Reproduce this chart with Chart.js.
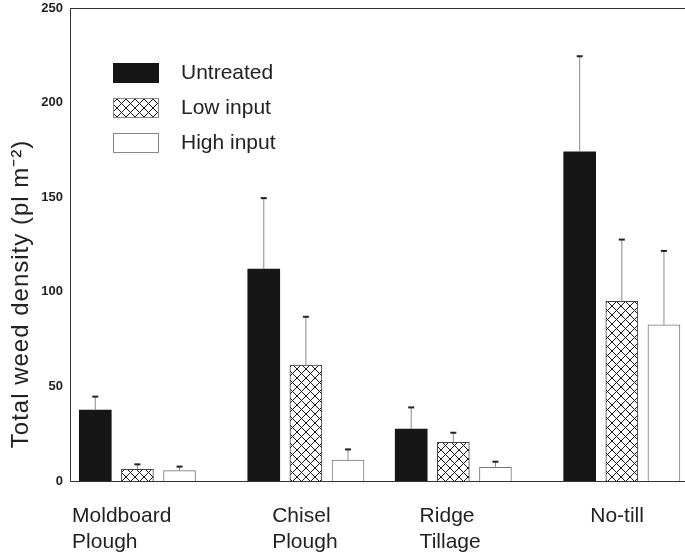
<!DOCTYPE html>
<html><head><meta charset="utf-8">
<script src="https://cdn.jsdelivr.net/npm/chart.js@4.4.1/dist/chart.umd.min.js"></script>
<style>html,body{margin:0;padding:0;background:#fff}#wrap{width:685px;height:554px}</style>
</head><body><div id="wrap"><canvas id="c" width="685" height="554"></canvas></div>
<script>
// ---- data ----
const categories = ['Moldboard Plough', 'Chisel Plough', 'Ridge Tillage', 'No-till'];
const tickLabels = [['Moldboard', 'Plough'], ['Chisel', 'Plough'], ['Ridge', 'Tillage'], ['No-till']];
const seriesNames = ['Untreated', 'Low input', 'High input'];
const untreated = [37.5, 112, 27.5, 174];
const lowInput = [6.2, 61.3, 20.4, 95];
const highInput = [5.5, 11.1, 7.2, 82.5];
const untreatedErr = [7.1, 37.5, 11.4, 50.5];
const lowInputErr = [2.6, 25.5, 5.1, 32.6];
const highInputErr = [2.1, 5.6, 3.0, 39.1];
const yTicks = [0, 50, 100, 150, 200, 250];
const yTitle = 'Total weed density (pl m\u207B\u00B2)';

// ---- layout (positions on the linear x scale, not data) ----
const layoutCfg = {
  groupSlot: [0, 8, 15, 23],   // uneven group spacing as in the original
  seriesStep: 2,
  labelShift: [-1.1, 0.4, 0.4, 0.5],
  xMin: -1.2, xMax: 28
};

const FONT = '"Liberation Sans", Arial, Helvetica, sans-serif';

function hatchPattern() {
  const s = 9;
  const c = document.createElement('canvas');
  c.width = s; c.height = s;
  const g = c.getContext('2d');
  g.fillStyle = '#fff'; g.fillRect(0, 0, s, s);
  g.strokeStyle = '#1a1a1a'; g.lineWidth = 1;
  g.beginPath();
  g.moveTo(0, 0); g.lineTo(s, s);
  g.moveTo(s, 0); g.lineTo(0, s);
  g.stroke();
  return g.createPattern(c, 'repeat');
}

const seriesValues = [untreated, lowInput, highInput];
const seriesErrs = [untreatedErr, lowInputErr, highInputErr];
const styles = [
  { backgroundColor: '#161616', borderColor: '#161616', borderWidth: 0 },
  { backgroundColor: hatchPattern(), borderColor: '#444', borderWidth: 1 },
  { backgroundColor: '#ffffff', borderColor: '#777', borderWidth: 1 }
];

const datasets = seriesNames.map((name, s) => ({
  label: name,
  data: seriesValues[s].map((v, g) => ({ x: layoutCfg.groupSlot[g] + s * layoutCfg.seriesStep, y: v })),
  errors: seriesErrs[s],
  backgroundColor: styles[s].backgroundColor,
  borderColor: styles[s].borderColor,
  borderWidth: styles[s].borderWidth,
  borderSkipped: 'bottom',
  barThickness: 32,
  grouped: false
}));

const errorBars = {
  id: 'errorBars',
  afterDatasetsDraw(chart) {
    const ctx = chart.ctx, y = chart.scales.y;
    chart.data.datasets.forEach((ds, i) => {
      const meta = chart.getDatasetMeta(i);
      meta.data.forEach((el, j) => {
        const top = y.getPixelForValue(ds.data[j].y + ds.errors[j]);
        ctx.save();
        ctx.strokeStyle = '#8a8a8a'; ctx.lineWidth = 1;
        ctx.beginPath(); ctx.moveTo(el.x, el.y); ctx.lineTo(el.x, top); ctx.stroke();
        ctx.strokeStyle = '#222'; ctx.lineWidth = 2;
        ctx.beginPath(); ctx.moveTo(el.x - 3, top); ctx.lineTo(el.x + 3, top); ctx.stroke();
        ctx.restore();
      });
    });
  }
};

const innerLegend = {
  id: 'innerLegend',
  afterDraw(chart) {
    const ctx = chart.ctx, a = chart.chartArea;
    const bx = a.left + 43, by = a.top + 55, bw = 46, bh = 20, step = 35;
    ctx.save();
    chart.data.datasets.forEach((ds, i) => {
      const yy = by + i * step;
      ctx.fillStyle = ds.backgroundColor;
      ctx.fillRect(bx, yy, bw, bh);
      ctx.strokeStyle = i === 0 ? '#161616' : '#888';
      ctx.lineWidth = 1;
      ctx.strokeRect(bx + 0.5, yy + 0.5, bw - 1, bh - 1);
      ctx.fillStyle = '#222';
      ctx.font = '21px ' + FONT;
      ctx.textAlign = 'left'; ctx.textBaseline = 'middle';
      ctx.fillText(ds.label, bx + 68, yy + bh / 2);
    });
    ctx.restore();
  }
};

const yTitlePlugin = {
  id: 'yTitle',
  afterDraw(chart) {
    const ctx = chart.ctx;
    ctx.save();
    ctx.translate(21, 294);
    ctx.rotate(-Math.PI / 2);
    ctx.font = '24px ' + FONT;
    ctx.letterSpacing = '1px';
    ctx.fillStyle = '#222';
    ctx.textAlign = 'center'; ctx.textBaseline = 'middle';
    ctx.fillText(yTitle, 0, 0);
    ctx.restore();
  }
};

new Chart(document.getElementById('c'), {
  type: 'bar',
  data: { datasets },
  options: {
    responsive: false,
    devicePixelRatio: 1,
    animation: false,
    layout: { padding: { top: 8, right: 0, left: 0, bottom: 0 } },
    plugins: { legend: { display: false }, tooltip: { enabled: false } },
    scales: {
      x: {
        type: 'linear', position: 'bottom', offset: false,
        min: layoutCfg.xMin, max: layoutCfg.xMax,
        grid: { display: false, drawTicks: false, offset: false },
        border: { display: true, color: '#333', width: 1 },
        afterBuildTicks(scale) {
          scale.ticks = layoutCfg.groupSlot.map((g, i) => ({ value: g + layoutCfg.labelShift[i] }));
        },
        ticks: {
          autoSkip: false, maxRotation: 0, minRotation: 0, align: 'start',
          padding: 23, color: '#222',
          font: { family: FONT, size: 21, lineHeight: 1.2 },
          callback: (v, i) => tickLabels[i]
        },
        afterFit(scale) { scale.height = 73; scale.paddingLeft = 0; scale.paddingRight = 0; }
      },
      xTop: {
        type: 'linear', position: 'top', offset: false,
        min: layoutCfg.xMin, max: layoutCfg.xMax,
        grid: { display: false, drawTicks: false },
        ticks: { display: false },
        border: { display: true, color: '#333', width: 1 },
        afterFit(scale) { scale.height = 0; }
      },
      y: {
        type: 'linear', min: 0, max: 250,
        grid: { display: false, drawTicks: false },
        border: { display: true, color: '#333', width: 1 },
        afterBuildTicks(scale) { scale.ticks = yTicks.map(v => ({ value: v })); },
        ticks: { padding: 7, color: '#222', font: { family: FONT, size: 13, weight: 'bold' } },
        afterFit(scale) { scale.width = 70; scale.paddingTop = 0; scale.paddingBottom = 0; }
      }
    }
  },
  plugins: [errorBars, innerLegend, yTitlePlugin]
});
</script>
</body></html>
